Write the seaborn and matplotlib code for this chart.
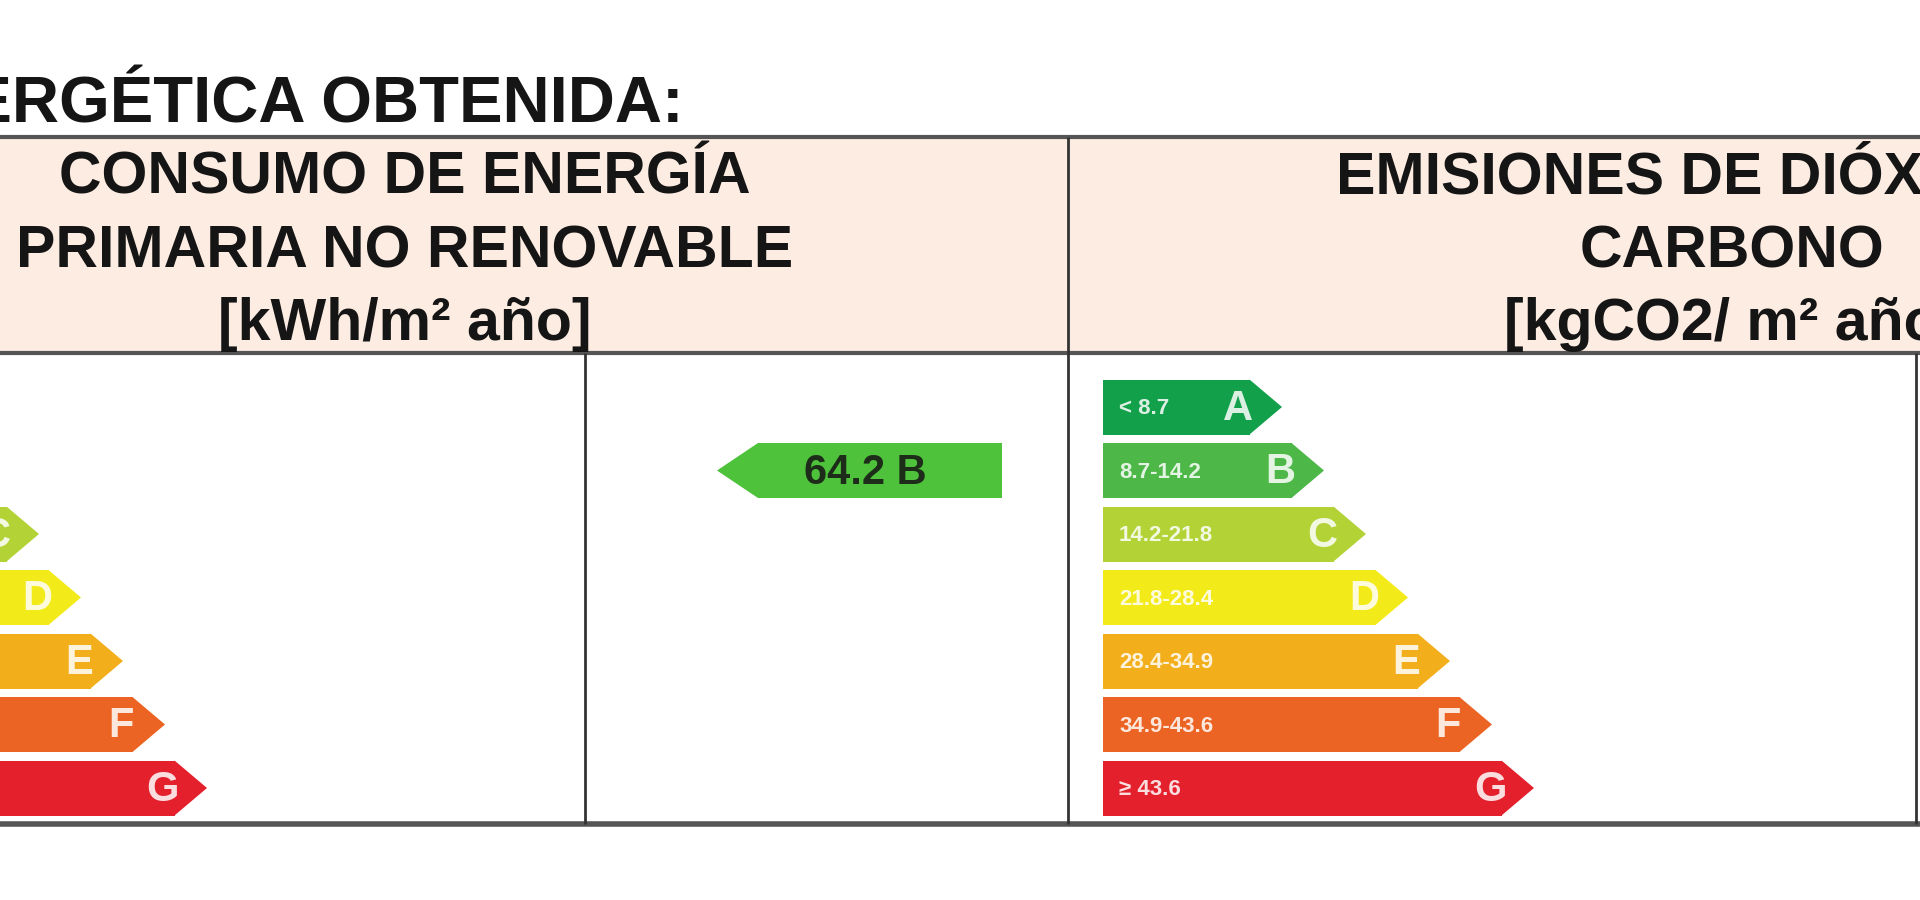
import numpy as np
import pandas as pd
import matplotlib
matplotlib.use("Agg")
import matplotlib.pyplot as plt
import seaborn as sns
from matplotlib.patches import Polygon, Rectangle

# ------------------------------
# Data
# ------------------------------
classes = ["A", "B", "C", "D", "E", "F", "G"]
co2_ranges = ["< 8.7", "8.7-14.2", "14.2-21.8", "21.8-28.4", "28.4-34.9", "34.9-43.6", "≥ 43.6"]
class_colors = ["#13a04b", "#4db848", "#b2d235", "#f3ea1a", "#f3ae1b", "#ec6424", "#e4202c"]

energy_value = 64.2
energy_class = "B"

title_text = "CALIFICACIÓN ENERGÉTICA OBTENIDA:"
energy_header = ["CONSUMO DE ENERGÍA", "PRIMARIA NO RENOVABLE", "[kWh/m² año]"]
co2_header = ["EMISIONES DE DIÓXIDO DE", "CARBONO", "[kgCO2/ m² año]"]

# ------------------------------
# Layout (pixels of a 1920x900 canvas)
# ------------------------------
W, H = 1920, 900
ROW0, ROW_STEP = 407, 63.5
BAR_H = 55
BAR_BASE, BAR_STEP, HEAD = 147, 42, 32
COL_W = 1327
RIGHT_COL = 1068
LEFT_COL = RIGHT_COL - COL_W
BAR_INSET = 35
FONT = "Liberation Sans"


def draw_scale(fig, col_left, ranges=None):
    # one axes per scale; x in pixels measured from the bar start
    x0 = max(col_left, 0)
    x1 = min(col_left + COL_W, W)
    top = ROW0 - 0.5 * ROW_STEP
    bottom = ROW0 + 6.5 * ROW_STEP
    ax = fig.add_axes([x0 / W, 1 - bottom / H, (x1 - x0) / W, (bottom - top) / H])
    ax.patch.set_alpha(0)

    df = pd.DataFrame({"cls": classes})
    df["length"] = BAR_BASE + BAR_STEP * np.arange(len(classes))

    bw = BAR_H / ROW_STEP
    sns.barplot(data=df, x="length", y="cls", hue="cls", palette=class_colors,
                orient="h", width=bw, saturation=1, legend=False,
                linewidth=0, ax=ax)

    start = col_left + BAR_INSET
    ax.set_xlim(x0 - start, x1 - start)
    ax.set_ylim(6.5, -0.5)
    ax.axis("off")

    # arrow heads, class letters and range labels
    for i, (cls, length) in enumerate(zip(df["cls"], df["length"])):
        ax.add_patch(Polygon([(length - 0.5, i - bw / 2), (length + HEAD, i),
                              (length - 0.5, i + bw / 2)],
                             closed=True, facecolor=class_colors[i], edgecolor="none"))
        ax.text(length - 12, i + 0.03, cls, ha="center", va="center",
                color="white", alpha=0.85, fontsize=30, fontweight="bold",
                family=FONT, clip_on=True)
        if ranges is not None:
            ax.text(16, i + 0.03, ranges[i], ha="left", va="center",
                    color="white", alpha=0.85, fontsize=16, fontweight="bold",
                    family=FONT, clip_on=True)
    return ax


def main():
    sns.set_theme(style="white")
    plt.rcParams["font.family"] = [FONT, "DejaVu Sans"]

    fig = plt.figure(figsize=(19.2, 9), dpi=100)
    fig.patch.set_facecolor("white")

    # background canvas for the table
    canvas = fig.add_axes([0, 0, 1, 1])
    canvas.set_xlim(0, W)
    canvas.set_ylim(H, 0)
    canvas.axis("off")

    canvas.add_patch(Rectangle((0, 137), W, 216, facecolor="#fcece2", edgecolor="none"))
    line_col = "#555555"
    canvas.hlines([137, 353], 0, W, colors=line_col, linewidth=3)
    canvas.hlines(824, 0, W, colors=line_col, linewidth=4)
    canvas.vlines(585, 353, 824, colors="#333333", linewidth=2)
    canvas.vlines(RIGHT_COL, 137, 824, colors="#333333", linewidth=2)
    canvas.vlines(1916, 353, 824, colors="#333333", linewidth=2)

    canvas.text(684, 122, title_text, ha="right", va="baseline",
                fontsize=47, fontweight="bold", color="#151515")

    baselines = [193, 267, 340]
    left_center = LEFT_COL + COL_W / 2
    right_center = RIGHT_COL + COL_W / 2
    for txt, yb in zip(energy_header, baselines):
        canvas.text(left_center, yb, txt, ha="center", va="baseline",
                    fontsize=42.5, fontweight="bold", color="#151515")
    for txt, yb in zip(co2_header, baselines):
        canvas.text(right_center, yb, txt, ha="center", va="baseline",
                    fontsize=42.5, fontweight="bold", color="#151515")

    # energy indicator arrow
    yc = ROW0 + ROW_STEP * classes.index(energy_class)
    canvas.add_patch(Polygon([(717, yc), (758, yc - BAR_H / 2), (1002, yc - BAR_H / 2),
                              (1002, yc + BAR_H / 2), (758, yc + BAR_H / 2)],
                             closed=True, facecolor="#4fc23c", edgecolor="none"))
    canvas.text(865, yc + 2, f"{energy_value} {energy_class}", ha="center", va="center",
                fontsize=30, fontweight="bold", color="#1d2d1a")

    # scales
    draw_scale(fig, LEFT_COL)
    draw_scale(fig, RIGHT_COL, co2_ranges)

    fig.savefig("out.png", dpi=100, facecolor="white")
    plt.close(fig)


if __name__ == "__main__":
    main()
